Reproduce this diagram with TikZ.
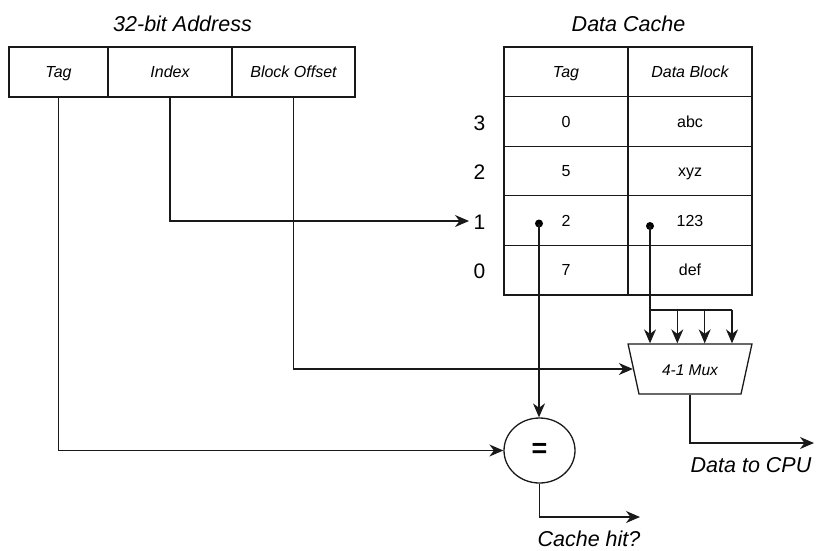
\documentclass[tikz,border=0pt]{standalone}
\usepackage{fontspec}
\setmainfont{Liberation Sans}
\usetikzlibrary{arrows.meta,shapes.geometric}
\tikzset{
  arr/.style={-{Stealth[length=14pt,width=12pt,inset=4.5pt]}},
  cell/.style={draw, inner sep=0pt, minimum height=50pt, text height=11.5pt, text depth=0pt},
  hdr/.style={font=\fontsize{16}{19}\itshape\selectfont},
  val/.style={font=\fontsize{16}{19}\selectfont},
  big/.style={font=\fontsize{21.5}{24}\itshape\selectfont},
  rowlbl/.style={font=\fontsize{21}{24}\selectfont, inner sep=4pt, text height=16pt, text depth=0pt},
  dotnode/.style={circle, fill=black, inner sep=0pt, minimum size=8pt},
}
\begin{document}
\begin{tikzpicture}[x=1pt,y=-1pt, line width=1.3pt, draw=black!90]
\useasboundingbox (0,0) rectangle (816,550);

% titles
\node[big, anchor=base] (tAddr) at (182.5,31.5) {32-bit Address};
\node[big, anchor=base] (tCache) at (628.5,31) {Data Cache};

% address fields
\node[cell, hdr, minimum width=99pt] (aTag) at (58.5,72) {Tag};
\node[cell, hdr, minimum width=124pt] (aIdx) at (170,72) {Index};
\node[cell, hdr, minimum width=123pt] (aOff) at (293.5,72) {Block Offset};

% cache table
\begin{scope}[cell/.append style={minimum width=124pt, minimum height=49.6pt}]
\node[cell, hdr] (hTag) at (566,71.8) {Tag};
\node[cell, hdr] (hDat) at (690,71.8) {Data Block};
\node[cell, val] (c3t) at (566,121.4) {0};
\node[cell, val] (c3d) at (690,121.4) {abc};
\node[cell, val] (c2t) at (566,171.0) {5};
\node[cell, val] (c2d) at (690,171.0) {xyz};
\node[cell, val] (c1t) at (566,220.6) {2};
\node[cell, val] (c1d) at (690,220.6) {123};
\node[cell, val] (c0t) at (566,270.2) {7};
\node[cell, val] (c0d) at (690,270.2) {def};
\end{scope}

% row labels
\node[rowlbl] (r3) at (479.5,122) {3};
\node[rowlbl] (r2) at (479.5,171.5) {2};
\node[rowlbl] (r1) at (479.5,221) {1};
\node[rowlbl] (r0) at (479.5,270.5) {0};

% dots
\node[dotnode] (dT) at (539,223.5) {};
\node[dotnode] (dD) at (650,226) {};

% mux
\node[trapezium, draw, trapezium stretches=true,
      trapezium left angle=116.57, trapezium right angle=116.57,
      minimum width=124pt, minimum height=50pt, inner sep=0pt,
      text height=12pt, text depth=0pt,
      font=\fontsize{15.5}{18}\itshape\selectfont] (mux) at (690,369) {4-1 Mux};

% comparator
\node[ellipse, draw, minimum width=71pt, minimum height=65pt, inner sep=0pt,
      font=\fontsize{27}{27}\bfseries\selectfont] (eq) at (539.5,450.5) {=};

% bus coordinates
\coordinate (b1) at (650,310);
\coordinate (b2) at (677.3,310);
\coordinate (b3) at (704.7,310);
\coordinate (b4) at (732,310);
\coordinate (cpuEnd) at (814,443);
\coordinate (hitEnd) at (640,517);

% output labels
\node[big, anchor=base] (lCpu) at (751,472) {Data to CPU};
\node[big, anchor=base] (lHit) at (589,546) {Cache hit?};

% connectors
\draw[arr] (aIdx.south) |- (r1.west);
\draw[arr] (aTag.south) |- (eq.west);
\draw[arr] (aOff.south) |- (mux.west);
\draw[arr] (dT.center) -- (dT |- eq.north);
\draw (dD.center) -- (b1) -- (b4);
\draw[arr] (b1) -- (b1 |- mux.north);
\draw[arr] (b2) -- (b2 |- mux.north);
\draw[arr] (b3) -- (b3 |- mux.north);
\draw[arr] (b4) -- (b4 |- mux.north);
\draw[arr] (mux.south) |- (cpuEnd);
\draw[arr] (eq.south) |- (hitEnd);
\end{tikzpicture}
\end{document}
